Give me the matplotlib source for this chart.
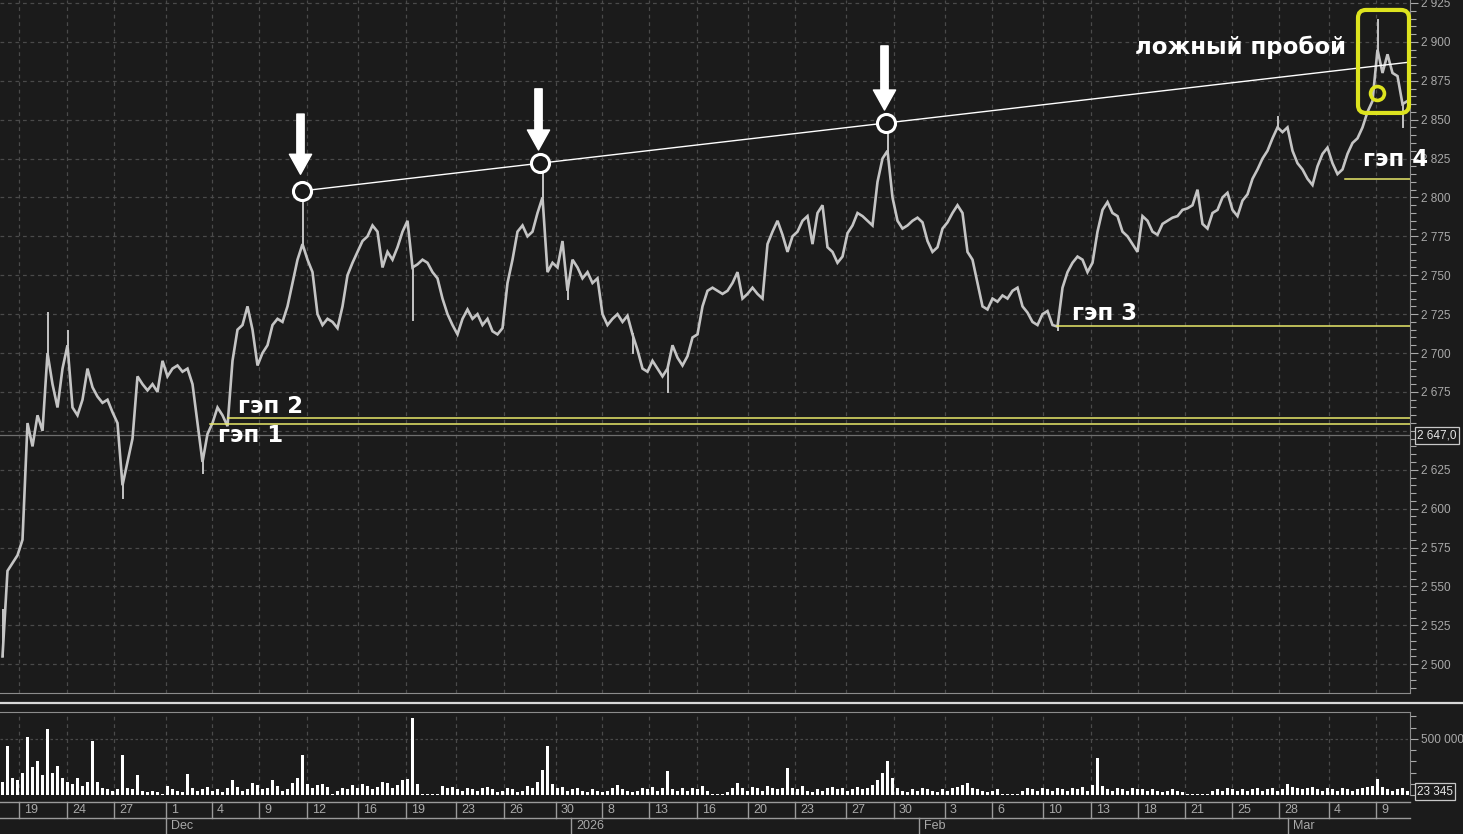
import matplotlib
matplotlib.use("Agg")
import matplotlib.pyplot as plt
from matplotlib.patches import FancyBboxPatch
from matplotlib.lines import Line2D
from matplotlib.ticker import FuncFormatter, MultipleLocator

# ---------------- data ----------------
price = [2505, 2560, 2565, 2570, 2580, 2655, 2640, 2660, 2650, 2700,
         2680, 2665, 2690, 2705, 2665, 2660, 2670, 2690, 2678, 2672,
         2668, 2670, 2662, 2655, 2615, 2630, 2645, 2685, 2680, 2676,
         2680, 2675, 2695, 2685, 2690, 2692, 2688, 2690, 2680, 2655,
         2630, 2648, 2655, 2665, 2660, 2653, 2695, 2715, 2718, 2730,
         2715, 2692, 2700, 2705, 2718, 2722, 2720, 2730, 2745, 2760,
         2770, 2760, 2752, 2725, 2718, 2722, 2720, 2716, 2730, 2750,
         2758, 2765, 2772, 2775, 2782, 2778, 2755, 2765, 2760, 2768,
         2778, 2785, 2755, 2757, 2760, 2758, 2752, 2748, 2735, 2725,
         2718, 2712, 2722, 2728, 2722, 2725, 2718, 2722, 2714, 2712,
         2716, 2745, 2760, 2778, 2782, 2775, 2778, 2790, 2800, 2752,
         2758, 2755, 2772, 2740, 2760, 2755, 2748, 2752, 2745, 2748,
         2725, 2718, 2722, 2725, 2720, 2724, 2712, 2702, 2690, 2688,
         2695, 2690, 2685, 2690, 2705, 2697, 2692, 2698, 2710, 2712,
         2730, 2740, 2742, 2740, 2738, 2740, 2745, 2752, 2735, 2738,
         2742, 2738, 2735, 2770, 2778, 2785, 2776, 2765, 2775, 2778,
         2785, 2788, 2770, 2790, 2795, 2768, 2765, 2758, 2762, 2777,
         2782, 2790, 2788, 2785, 2782, 2810, 2825, 2830, 2800, 2785,
         2780, 2782, 2785, 2787, 2784, 2772, 2765, 2768, 2780, 2784,
         2790, 2795, 2790, 2765, 2760, 2745, 2730, 2728, 2735, 2733,
         2737, 2735, 2740, 2742, 2730, 2726, 2720, 2718, 2725, 2727,
         2718, 2717, 2742, 2752, 2758, 2762, 2760, 2752, 2758, 2778,
         2792, 2797, 2790, 2788, 2778, 2775, 2770, 2765, 2788, 2785,
         2778, 2776, 2783, 2785, 2787, 2788, 2792, 2793, 2795, 2805,
         2783, 2780, 2790, 2792, 2800, 2803, 2792, 2788, 2798, 2802,
         2812, 2818, 2825, 2830, 2838, 2845, 2842, 2845, 2830, 2822,
         2818, 2812, 2808, 2820, 2828, 2832, 2822, 2815, 2818, 2828,
         2835, 2838, 2845, 2855, 2862, 2895, 2880, 2892, 2880, 2878,
         2860, 2862]

# notable wicks: bar index and extreme price
wick_idx = [9, 24, 60, 82, 108, 133, 177, 211, 275, 280, 0, 40, 13, 113, 126, 255]
wick_val = [2726, 2607, 2805, 2721, 2821, 2675, 2841, 2715, 2914, 2845, 2535, 2623, 2714, 2735, 2700, 2852]

volume_k = [120, 440, 150, 130, 200, 520, 250, 300, 180, 590,
            200, 260, 150, 120, 100, 150, 80, 120, 480, 120,
            60, 50, 40, 50, 360, 60, 50, 180, 40, 30,
            40, 30, 10, 80, 50, 40, 30, 190, 60, 40,
            50, 70, 40, 50, 30, 60, 130, 70, 40, 50,
            110, 90, 50, 60, 130, 80, 40, 50, 110, 150,
            360, 100, 60, 90, 100, 70, 10, 40, 60, 50,
            90, 60, 100, 80, 50, 70, 120, 110, 60, 90,
            130, 140, 690, 100, 10, 5, 5, 10, 80, 60,
            70, 50, 40, 60, 50, 40, 60, 70, 50, 30,
            40, 60, 50, 30, 40, 80, 60, 120, 220, 440,
            100, 60, 70, 40, 50, 60, 40, 30, 50, 40,
            30, 40, 60, 90, 50, 40, 30, 40, 60, 50,
            70, 40, 60, 210, 50, 40, 60, 40, 60, 50,
            80, 40, 5, 5, 10, 30, 60, 110, 60, 40,
            70, 60, 40, 80, 60, 50, 60, 240, 60, 50,
            80, 40, 30, 50, 40, 60, 70, 50, 60, 40,
            50, 70, 50, 60, 90, 130, 200, 300, 150, 60,
            40, 30, 50, 40, 60, 50, 40, 30, 50, 40,
            60, 70, 90, 110, 60, 50, 40, 30, 40, 50,
            10, 5, 5, 10, 40, 60, 50, 40, 60, 50,
            40, 60, 50, 40, 60, 50, 70, 40, 90, 330,
            80, 50, 40, 60, 50, 40, 60, 50, 50, 40,
            50, 40, 30, 40, 50, 40, 30, 5, 5, 5,
            5, 5, 40, 50, 40, 60, 50, 40, 50, 40,
            50, 60, 40, 50, 60, 40, 50, 100, 70, 60,
            50, 60, 70, 50, 40, 60, 50, 40, 60, 50,
            40, 50, 60, 70, 80, 140, 70, 50, 40, 50,
            60, 40]

tick_pos = [3.3, 12.9, 22.3, 32.7, 41.9, 51.3, 60.9, 71.1, 80.7, 90.7,
            100.3, 110.7, 119.9, 129.3, 138.9, 149.1, 158.5, 168.7, 178.3,
            188.5, 197.9, 208.1, 217.7, 227.1, 236.5, 245.9, 255.3, 265.3, 274.7]
tick_lbl = ["19", "24", "27", "1", "4", "9", "12", "16", "19", "23", "26", "30",
            "8", "13", "16", "20", "23", "27", "30", "3", "6", "10", "13", "18",
            "21", "25", "28", "4", "9"]
month_pos = [32.7, 113.7, 183.3, 257.1]
month_lbl = ["Dec", "2026", "Feb", "Mar"]

trend_x = [59.9, 281.5]
trend_y = [2804.2, 2887.0]
touch_x = [59.9, 107.5, 176.7]
touch_y = [2804.2, 2822.2, 2847.9]
arrow_top = [2853.6, 2869.8, 2897.4]
arrow_tip = [2814.9, 2830.5, 2856.2]

gap_start = [41.5, 45.1, 210.9, 268.5]
gap_level = [2654.4, 2658.3, 2717.4, 2811.9]
gap_text_x = [43.1, 47.1, 213.9, 272.1]
gap_text_y = [2647.0, 2665.4, 2725.1, 2824.1]
gap_text = ["гэп 1", "гэп 2", "гэп 3", "гэп 4"]

last_price = 2647.0
last_volume = 23345

# ---------------- style ----------------
BG = "#1b1b1b"
GRID = "#4a4a4a"
TXT = "#a9a9a9"
LINE = "#c4c4c4"
YEL = "#dde31f"
GAPY = "#e8e86a"
FONT = ["Liberation Sans", "DejaVu Sans"]
BOLDFONT = ["DejaVu Sans"]
plt.rcParams["font.family"] = FONT

W, H = 1463, 834
fig = plt.figure(figsize=(W / 100, H / 100), dpi=100, facecolor=BG)

def rect(x0, y0, x1, y1):
    return [x0 / W, 1 - y1 / H, (x1 - x0) / W, (y1 - y0) / H]

ax = fig.add_axes(rect(0, 0, 1410, 693), facecolor=BG)
axv = fig.add_axes(rect(0, 712, 1410, 795), facecolor=BG, sharex=ax)
axd = fig.add_axes(rect(0, 795, 1410, 834), facecolor=BG, sharex=ax)

n = len(price)
xs = list(range(n))
ax.set_xlim(-0.5, n - 0.5)
ax.set_ylim(2481.5, 2926.9)

# grid
for t in tick_pos:
    ax.axvline(t, color=GRID, lw=0.9, ls=(0, (3, 3)), zorder=0)
    axv.axvline(t, color=GRID, lw=0.9, ls=(0, (3, 3)), zorder=0)
for p in range(2500, 2926, 25):
    ax.axhline(p, color=GRID, lw=0.9, ls=(0, (3, 3)), zorder=0)

# price
ax.plot(xs, price, color=LINE, lw=1.9, zorder=3, solid_joinstyle="miter")
for i, v in zip(wick_idx, wick_val):
    ax.plot([i, i], [price[i], v], color=LINE, lw=1.4, zorder=3)

# last price line
ax.axhline(last_price, color="#6e6e6e", lw=0.9, zorder=1)

# gap lines
for gs, gl in zip(gap_start, gap_level):
    ax.plot([gs, n - 0.5], [gl, gl], color=GAPY, lw=1.1, zorder=4)
for tx, ty, tt in zip(gap_text_x, gap_text_y, gap_text):
    ax.text(tx, ty, tt, color="white", fontsize=16.5, fontweight="bold",
            family=BOLDFONT, va="center", ha="left", zorder=6, clip_on=False)

# trend line, circles, arrows
ax.plot(trend_x, trend_y, color="white", lw=1.0, zorder=5)
ax.plot(touch_x, touch_y, ls="none", marker="o", ms=13, mfc=BG, mec="white",
        mew=2.2, zorder=6)
for xa, yt, yb in zip(touch_x, arrow_top, arrow_tip):
    ax.annotate("", xy=(xa - 0.3, yb), xytext=(xa - 0.3, yt),
                arrowprops=dict(arrowstyle="simple,head_length=0.9,head_width=1.0,tail_width=0.33",
                                color="white", mutation_scale=16, shrinkA=0, shrinkB=0),
                zorder=7)

# false breakout
ax.text(226.5, 2896.7, "ложный пробой", color="white", fontsize=16.5,
        fontweight="bold", family=BOLDFONT, va="center", ha="left", zorder=6)
box = FancyBboxPatch((271.1, 2854.3), 10.2, 66.2,
                     boxstyle="round,pad=0,rounding_size=1.6",
                     mutation_aspect=3.21, fc="none", ec=YEL, lw=3.0, zorder=8,
                     clip_on=False)
ax.add_patch(box)
ax.plot([274.9], [2867.2], ls="none", marker="o", ms=10, mfc="none", mec=YEL,
        mew=2.6, zorder=8)

# price axis on the right
def price_fmt(v, p):
    iv = int(round(v))
    if abs(iv - last_price) < 10:
        return ""
    return f"{iv:,}".replace(",", " ")

ax.yaxis.tick_right()
ax.yaxis.set_major_locator(MultipleLocator(25))
ax.yaxis.set_minor_locator(MultipleLocator(5))
ax.yaxis.set_major_formatter(FuncFormatter(price_fmt))
ax.tick_params(axis="y", which="major", colors=TXT, labelsize=8.5, length=6,
               width=0.8, pad=2, labelcolor=TXT)
ax.tick_params(axis="y", which="minor", colors=TXT, length=4, width=0.8)
ax.tick_params(axis="x", bottom=False, labelbottom=False)
for s in ["top", "left"]:
    ax.spines[s].set_visible(False)
ax.spines["right"].set_color("#8c8c8c")
ax.spines["bottom"].set_color("#8c8c8c")
ax.text(1.0 + 7 / 1410, last_price, "2 647,0", transform=ax.get_yaxis_transform(),
        color="#e6e6e6", fontsize=8.5, va="center", ha="left", zorder=10,
        clip_on=False,
        bbox=dict(boxstyle="square,pad=0.2", fc=BG, ec="#c8c8c8", lw=0.9))

# volume
axv.bar(xs, [v * 1000 for v in volume_k], width=0.55, color="white", zorder=3)
axv.set_ylim(0, 740000)
axv.axhline(500000, color=GRID, lw=0.9, ls=(0, (2, 2)), zorder=0)
axv.yaxis.tick_right()
axv.set_yticks([500000])
axv.yaxis.set_minor_locator(MultipleLocator(100000))
axv.yaxis.set_major_formatter(FuncFormatter(lambda v, p: f"{int(v):,}".replace(",", " ")))
axv.tick_params(axis="y", which="major", colors=TXT, labelsize=8.5, length=6, width=0.8, pad=2)
axv.tick_params(axis="y", which="minor", colors=TXT, length=4, width=0.8)
axv.tick_params(axis="x", bottom=False, labelbottom=False)
for s in ["left", "bottom"]:
    axv.spines[s].set_visible(False)
axv.spines["right"].set_color("#8c8c8c")
axv.spines["top"].set_color("#8c8c8c")
axv.text(1.0 + 7 / 1410, 30000, f"{last_volume:,}".replace(",", " "),
         transform=axv.get_yaxis_transform(),
         color="#e6e6e6", fontsize=8.5, va="center", ha="left", clip_on=False,
         bbox=dict(boxstyle="square,pad=0.2", fc=BG, ec="#c8c8c8", lw=0.9))

# date axis
axd.set_ylim(0, 39)
axd.axis("off")
axd.plot([-0.5, n - 0.5], [32, 32], color="#9a9a9a", lw=1.0, clip_on=False)
axd.plot([-0.5, n - 0.5], [16, 16], color="#9a9a9a", lw=1.0, clip_on=False)
for t, lb in zip(tick_pos, tick_lbl):
    axd.plot([t, t], [16, 32], color="#9a9a9a", lw=1.0)
    axd.text(t + 1.0, 24, lb, color=TXT, fontsize=9, va="center", ha="left")
for t, lb in zip(month_pos, month_lbl):
    axd.plot([t, t], [0, 16], color="#9a9a9a", lw=1.0)
    axd.text(t + 1.0, 8, lb, color=TXT, fontsize=9, va="center", ha="left")

# separator between panes
fig.add_artist(Line2D([0, 1], [1 - 702.5 / H, 1 - 702.5 / H], color="#d8d8d8", lw=1.6))

fig.savefig("out.png", dpi=100, facecolor=BG)
